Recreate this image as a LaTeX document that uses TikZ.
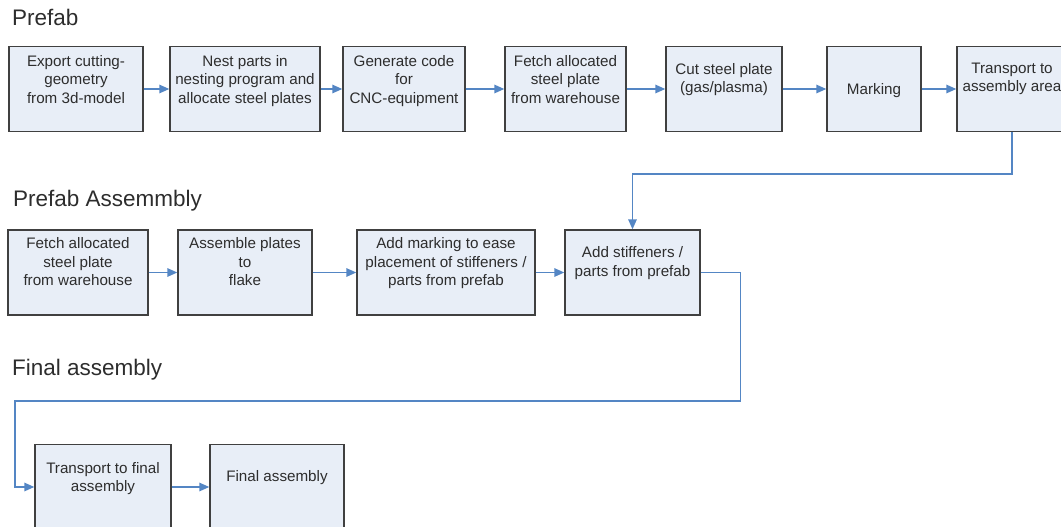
\documentclass[tikz,border=0pt]{standalone}
\usepackage{fontspec}
\setmainfont{Liberation Sans}
\usetikzlibrary{arrows.meta}
\definecolor{boxfill}{RGB}{232,238,247}
\definecolor{boxline}{RGB}{64,64,64}
\definecolor{flow}{RGB}{84,134,196}
\definecolor{ink}{RGB}{45,45,45}

\begin{document}
\begin{tikzpicture}[x=1pt,y=-1pt,
  stepbox/.style={draw=boxline, fill=boxfill, line width=1.4pt, inner sep=0pt, minimum height=85pt},
  steptext/.style={anchor=north, inner sep=0pt, align=center, text=ink,
    font=\fontsize{15.2}{18.5}\selectfont},
  heading/.style={anchor=base west, inner sep=0pt, text=ink,
    font=\fontsize{22.5}{27}\selectfont},
  flowline/.style={draw=flow, line width=1.5pt, -{Triangle[length=10pt,width=8.5pt]}}]
\useasboundingbox (0,0) rectangle (1061,527);
\clip (0,0) rectangle (1061,527);

% section headings
\node[heading] (h1) at (12,26) {Prefab};
\node[heading] (h2) at (13,206) {Prefab Assemmbly};
\node[heading] (h3) at (12,375) {Final assembly};

% prefab row
\node[stepbox, minimum width=134pt] (p1) at (76,89) {};
\node[stepbox, minimum width=150pt] (p2) at (245,89) {};
\node[stepbox, minimum width=122pt] (p3) at (404,89) {};
\node[stepbox, minimum width=121pt] (p4) at (565.5,89) {};
\node[stepbox, minimum width=116pt] (p5) at (724,89) {};
\node[stepbox, minimum width=94pt]  (p6) at (874,89) {};
\node[stepbox, minimum width=110pt] (p7) at (1012,89) {};

\node[steptext] (p1t) at ([yshift=-9pt]p1.north) {Export cutting-\\geometry\\from 3d-model};
\node[steptext] (p2t) at ([yshift=-9pt]p2.north) {Nest parts in\\nesting program and\\allocate steel plates};
\node[steptext] (p3t) at ([yshift=-9pt]p3.north) {Generate code\\for\\CNC-equipment};
\node[steptext] (p4t) at ([yshift=-9pt]p4.north) {Fetch allocated\\steel plate\\from warehouse};
\node[steptext] (p5t) at ([yshift=-17pt]p5.north) {Cut steel plate\\(gas/plasma)};
\node[steptext] (p6t) at ([yshift=-37pt]p6.north) {Marking};
\node[steptext] (p7t) at ([yshift=-17pt]p7.north) {Transport to\\assembly area};

% prefab assembly row
\node[stepbox, minimum width=140pt] (a1) at (78,272.5) {};
\node[stepbox, minimum width=134pt] (a2) at (245,272.5) {};
\node[stepbox, minimum width=178pt] (a3) at (446,272.5) {};
\node[stepbox, minimum width=135pt] (a4) at (632.5,272.5) {};

\node[steptext] (a1t) at ([yshift=-8pt]a1.north) {Fetch allocated\\steel plate\\from warehouse};
\node[steptext] (a2t) at ([yshift=-8pt]a2.north) {Assemble plates\\to\\flake};
\node[steptext] (a3t) at ([yshift=-8pt]a3.north) {Add marking to ease\\placement of stiffeners /\\parts from prefab};
\node[steptext] (a4t) at ([yshift=-17pt]a4.north) {Add stiffeners /\\parts from prefab};

% final assembly row
\node[stepbox, minimum width=136pt] (f1) at (103,487) {};
\node[stepbox, minimum width=134pt] (f2) at (277,487) {};

\node[steptext] (f1t) at ([yshift=-18pt]f1.north) {Transport to final\\assembly};
\node[steptext] (f2t) at ([yshift=-26pt]f2.north) {Final assembly};

% flow connectors
\draw[flowline] (p1.east) -- (p2.west);
\draw[flowline] (p2.east) -- (p3.west);
\draw[flowline] (p3.east) -- (p4.west);
\draw[flowline] (p4.east) -- (p5.west);
\draw[flowline] (p5.east) -- (p6.west);
\draw[flowline] (p6.east) -- (p7.west);
\draw[flowline] (p7.south) -- ++(0,42) -| (a4.north);

\draw[flowline] (a1.east) -- (a2.west);
\draw[flowline] (a2.east) -- (a3.west);
\draw[flowline] (a3.east) -- (a4.west);
\coordinate (bend) at (15,401);
\draw[flowline] (a4.east) -- ++(40,0) |- (bend) |- (f1.west);

\draw[flowline] (f1.east) -- (f2.west);
\end{tikzpicture}
\end{document}
